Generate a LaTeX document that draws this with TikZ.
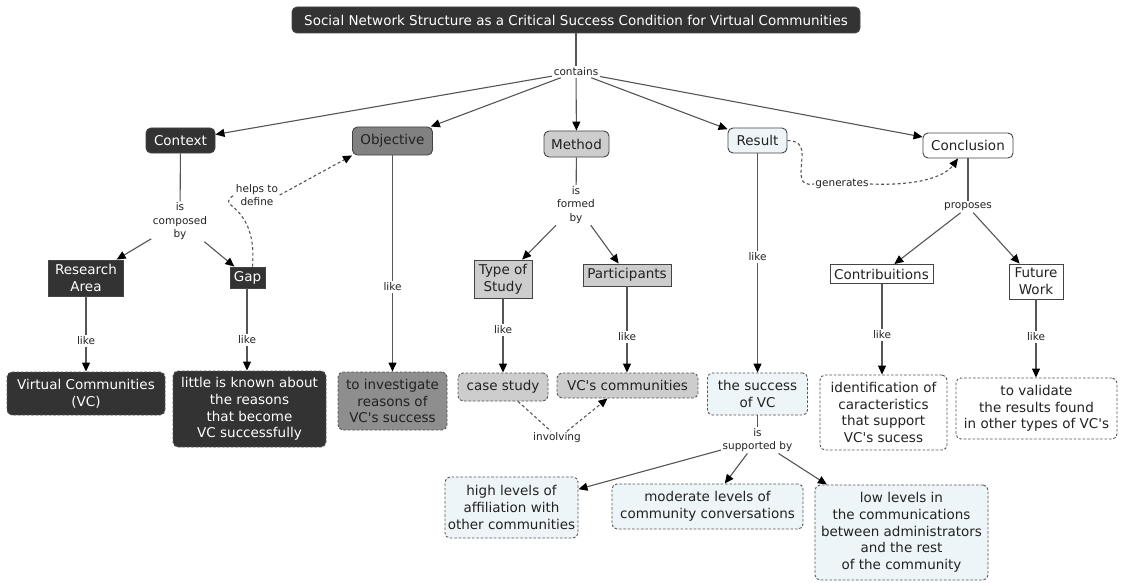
\documentclass[tikz,border=0pt]{standalone}
\usepackage{fontspec}
\setmainfont{DejaVu Sans}
\usetikzlibrary{arrows.meta}

\definecolor{darkfill}{HTML}{333333}
\definecolor{midfill}{HTML}{818181}
\definecolor{leafgray}{HTML}{8E8E8E}
\definecolor{lightfill}{HTML}{CDCDCD}
\definecolor{bluefill}{HTML}{EDF5F8}
\definecolor{edgecol}{HTML}{555555}
\definecolor{rim}{HTML}{444444}
\definecolor{ink}{HTML}{222222}

% straight apostrophe
\newcommand{\ap}{\textquotesingle}

\begin{document}
\begin{tikzpicture}[x=1pt,y=-1pt,
  box/.style={draw=rim, line width=0.9pt, align=center, inner sep=0pt,
    font=\fontsize{13.5}{16.7}\selectfont, text=ink},
  roundbox/.style={box, rounded corners=5pt},
  leafbox/.style={box, rounded corners=5pt, draw=edgecol, dash pattern=on 2.6pt off 1.8pt},
  darkbox/.style={fill=darkfill, text=white},
  graybox/.style={fill=midfill},
  leafgraybox/.style={fill=leafgray},
  lightbox/.style={fill=lightfill},
  bluebox/.style={fill=bluefill},
  whitebox/.style={fill=white},
  lab/.style={font=\fontsize{10.5}{13.4}\selectfont, text=ink, align=center, inner sep=1.5pt},
  link/.style={draw=edgecol, line width=1.1pt},
  arr/.style={link, -{Triangle[length=9pt,width=8pt,color=black]}},
  dlink/.style={link, dash pattern=on 3pt off 2.5pt},
  darr/.style={arr, dash pattern=on 3pt off 2.5pt}
]
\useasboundingbox[fill=white] (0,0) rectangle (1121,583);

% ---------- top level ----------
\node[roundbox,darkbox,minimum width=568pt,minimum height=26pt] (title) at (576,20)
  {Social Network Structure as a Critical Success Condition for Virtual Communities};
\node[lab] (contains) at (576,72) {contains};

\node[roundbox,darkbox,minimum width=69pt,minimum height=25pt] (context) at (180.5,140.5) {Context};
\node[roundbox,graybox,minimum width=80pt,minimum height=28pt] (objective) at (392.5,141) {Objective};
\node[roundbox,lightbox,minimum width=65pt,minimum height=26pt] (method) at (576.5,144) {Method};
\node[roundbox,bluebox,minimum width=59pt,minimum height=25pt] (result) at (757.5,140.5) {Result};
\node[roundbox,whitebox,minimum width=90pt,minimum height=25pt] (conclusion) at (968,145.5) {Conclusion};

% ---------- second level ----------
\node[lab] (composed) at (180,221.5) {is\\composed\\by};
\node[box,darkbox,minimum width=75pt,minimum height=36pt] (research) at (86,278) {Research\\Area};
\node[box,darkbox,minimum width=35pt,minimum height=21pt] (gap) at (247.5,277.5) {Gap};
\node[lab] (helps) at (257,195) {helps to\\define};

\node[lab] (formed) at (576,205) {is\\formed\\by};
\node[box,lightbox,minimum width=58pt,minimum height=38pt] (study) at (503,279) {Type of\\Study};
\node[box,lightbox,minimum width=88pt,minimum height=22pt] (participants) at (627,275) {Participants};

\node[lab] (generates) at (842,184) {generates};
\node[lab] (proposes) at (968,207) {proposes};
\node[box,whitebox,minimum width=103pt,minimum height=19pt] (contrib) at (881.5,274) {Contribuitions};
\node[box,whitebox,minimum width=54pt,minimum height=35pt] (future) at (1036,281.5) {Future\\Work};

% ---------- "like" labels ----------
\node[lab] (like1) at (86,341) {like};
\node[lab] (like2) at (247,340) {like};
\node[lab] (like3) at (392.5,287) {like};
\node[lab] (like4) at (503,330) {like};
\node[lab] (like5) at (627,337) {like};
\node[lab] (like6) at (757.5,257) {like};
\node[lab] (like7) at (882,335) {like};
\node[lab] (like8) at (1036,337) {like};

% ---------- leaves ----------
\node[leafbox,darkbox,minimum width=158pt,minimum height=43pt] (vcleaf) at (86,393.5)
  {Virtual Communities\\(VC)};
\node[leafbox,darkbox,minimum width=153pt,minimum height=76pt] (little) at (249.5,409)
  {little is known about\\the reasons\\that become\\VC successfully};
\node[leafbox,leafgraybox,minimum width=109pt,minimum height=58pt] (investigate) at (392.5,401)
  {to investigate\\reasons of\\VC\ap s success};
\node[leafbox,lightbox,minimum width=90pt,minimum height=28pt] (casestudy) at (503,387) {case study};
\node[leafbox,lightbox,minimum width=141pt,minimum height=25pt] (vccomm) at (627.5,385.5) {VC\ap s communities};
\node[leafbox,bluebox,minimum width=100pt,minimum height=42pt] (success) at (757.5,394) {the success\\of VC};
\node[leafbox,whitebox,minimum width=127pt,minimum height=75pt] (ident) at (883.5,412.5)
  {identification of\\caracteristics\\that support\\VC\ap s sucess};
\node[leafbox,whitebox,minimum width=161pt,minimum height=61pt] (validate) at (1036.5,408.5)
  {to validate\\the results found\\in other types of VC\ap s};

\node[lab] (involving) at (557,438) {involving};
\node[lab] (supported) at (757.5,440) {is\\supported by};

\node[leafbox,bluebox,minimum width=133pt,minimum height=61pt] (high) at (511.5,507.5)
  {high levels of\\affiliation with\\other communities};
\node[leafbox,bluebox,minimum width=191pt,minimum height=45pt] (moderate) at (707.5,506.5)
  {moderate levels of\\community conversations};
\node[leafbox,bluebox,minimum width=173pt,minimum height=95pt] (low) at (901.5,532.5)
  {low levels in\\the communications\\between administrators\\and the rest\\of the community};

% ---------- connectors ----------
\draw[link] (title) -- (contains);
\foreach \t in {context,objective,method,result,conclusion}
  \draw[arr] (contains) -- (\t);

\draw[link] (context) -- (composed);
\draw[arr] (composed) -- (research);
\draw[arr] (composed) -- (gap);

\draw[dlink] ([xshift=5pt]gap.north) .. controls (254,245) and (252,222) .. (232,206)
  .. controls (228,203) and (226,200) .. (helps.west);
\draw[darr] (helps.east) -- (objective.south west);

\draw[link] (method) -- (formed);
\draw[arr] (formed) -- (study);
\draw[arr] (formed) -- (participants);

\draw[dlink] (result.east) .. controls (808,141) and (801,158) .. (801,172)
  .. controls (801,184) and (806,185) .. (generates.west);
\draw[darr] (generates.east) .. controls (920,186) and (945,176) .. ([xshift=-10pt]conclusion.south);

\draw[link] (conclusion) -- (proposes);
\draw[arr] (proposes) -- (contrib);
\draw[arr] (proposes) -- (future);

\draw[link] (research) -- (like1);
\draw[arr] (like1) -- (like1 |- vcleaf.north);
\draw[link] (gap.south -| like2) -- (like2);
\draw[arr] (like2) -- (like2 |- little.north);
\draw[link] (objective) -- (like3);
\draw[arr] (like3) -- (investigate);
\draw[link] (study) -- (like4);
\draw[arr] (like4) -- (casestudy);
\draw[link] (participants) -- (like5);
\draw[arr] (like5) -- (like5 |- vccomm.north);
\draw[link] (result) -- (like6);
\draw[arr] (like6) -- (success);
\draw[link] (contrib.south -| like7) -- (like7);
\draw[arr] (like7) -- (like7 |- ident.north);
\draw[link] (future) -- (like8);
\draw[arr] (like8) -- (like8 |- validate.north);

\draw[dlink] ([xshift=15pt]casestudy.south) -- ([xshift=-6pt]involving.north);
\draw[darr] ([xshift=10pt]involving.north) -- ([xshift=-20pt]vccomm.south);

\draw[link] (success) -- (supported);
\draw[arr] (supported) -- (high);
\draw[arr] (supported) -- (moderate);
\draw[arr] (supported) -- (low);
\end{tikzpicture}
\end{document}
